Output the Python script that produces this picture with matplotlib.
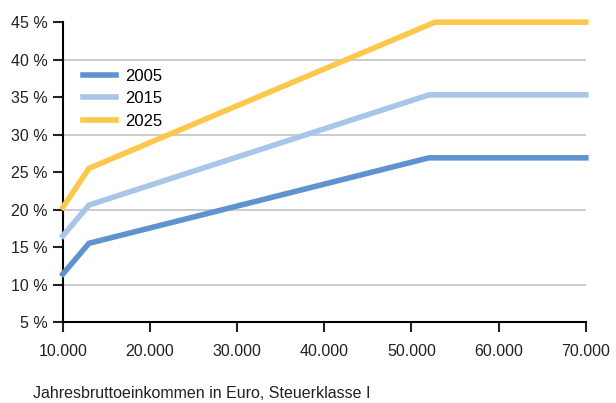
import matplotlib
matplotlib.use("Agg")
import matplotlib.pyplot as plt
from matplotlib.ticker import FuncFormatter

plt.rcParams['font.family'] = ['Liberation Sans', 'DejaVu Sans']

# Einkommen (Euro) und Belastung (%)
einkommen = [10000, 13000, 52000, 70000]
y2005 = [11.4, 15.5, 26.9, 26.9]
y2015 = [16.5, 20.6, 35.3, 35.3]
y2025 = [20.3, 25.5, 45.0, 45.0]
einkommen_2025 = [10000, 13000, 52700, 70000]

farben = {"2005": "#5f93d0", "2015": "#a9c5ea", "2025": "#fcc84c"}

fig = plt.figure(figsize=(6.16, 4.03), dpi=100)
ax = fig.add_axes([0.102, 0.201, 0.849, 0.744])

for y in [10, 20, 30, 40]:
    ax.axhline(y, color="#c4c4c4", lw=1.2, zorder=1)

ax.plot(einkommen, y2005, color=farben["2005"], lw=4, label="2005", clip_on=False, zorder=3, solid_joinstyle="miter")
ax.plot(einkommen, y2015, color=farben["2015"], lw=4, label="2015", clip_on=False, zorder=3, solid_joinstyle="miter")
ax.plot(einkommen_2025, y2025, color=farben["2025"], lw=4, label="2025", clip_on=False, zorder=3, solid_joinstyle="miter")

ax.set_xlim(10000, 70000)
ax.set_ylim(5, 45)
ax.set_xticks(range(10000, 70001, 10000))
ax.set_yticks(range(5, 46, 5))
ax.xaxis.set_major_formatter(FuncFormatter(lambda v, p: f"{int(v):,}".replace(",", ".")))
ax.yaxis.set_major_formatter(FuncFormatter(lambda v, p: f"{int(v)} %"))

for s in ["top", "right"]:
    ax.spines[s].set_visible(False)
for s in ["left", "bottom"]:
    ax.spines[s].set_linewidth(1.5)
ax.tick_params(axis="both", direction="out", length=7, width=1.5, labelsize=11.5, colors="#222222")
ax.tick_params(axis="x", pad=9)
ax.tick_params(axis="y", pad=4)

ax.legend(loc="upper left", bbox_to_anchor=(0.01, 0.895), frameon=False, fontsize=12,
          handlelength=2.0, handletextpad=0.55, labelspacing=0.45)

fig.text(0.054, 0.012, "Jahresbruttoeinkommen in Euro, Steuerklasse I", fontsize=11.5, color="#222222")

fig.savefig("out.png", dpi=100)
